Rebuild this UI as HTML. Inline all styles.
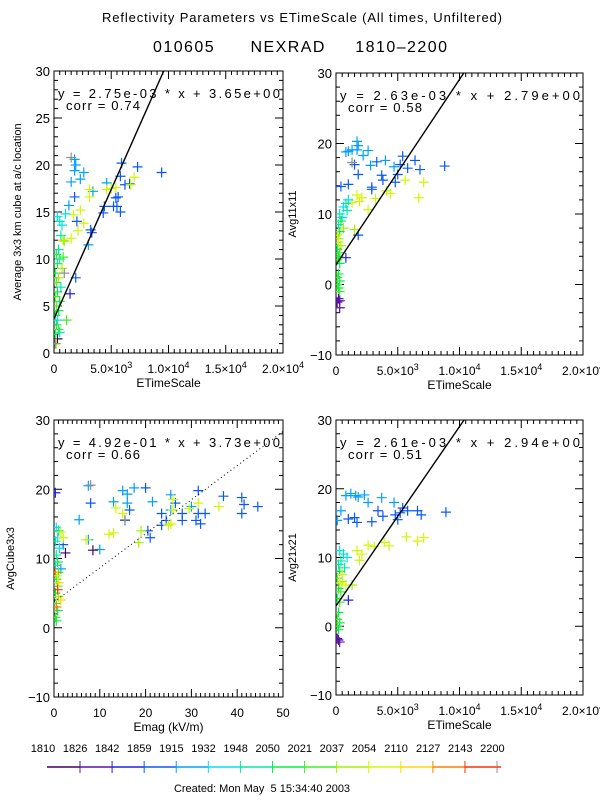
<!DOCTYPE html>
<html><head><meta charset="utf-8">
<style>
body{margin:0;background:#fff;}
svg{display:block;font-family:"Liberation Sans",sans-serif;}
</style></head>
<body>
<svg id="c" width="600" height="800" viewBox="0 0 600 800">
<rect width="600" height="800" fill="#fff"/>
<text x="102" y="22" font-size="13" textLength="400" lengthAdjust="spacing">Reflectivity Parameters vs ETimeScale (All times, Unfiltered)</text>
<text x="153" y="52" font-size="16" textLength="294" lengthAdjust="spacing" xml:space="preserve">010605      NEXRAD     1810–2200</text>
<text x="262" y="792" text-anchor="middle" font-size="11" xml:space="preserve">Created: Mon May  5 15:34:40 2003</text>
</svg>
<script>
// palette by time bin (1810 ... 2200), plus gray (index 14)
const palette=["#40005a","#5a10a8","#2020e8","#0858f8","#00a0ff","#00e0f0","#00e8a8","#00f040","#40f020","#a8f000","#d0f800","#ffd800","#ff8000","#ff3000","#909090"];
const timeLabels=["1810","1826","1842","1859","1915","1932","1948","2050","2021","2037","2054","2110","2127","2143","2200"];

// ---- plot 1 (top-left) ----
const p1x=[5900,7300,9400,5800,6200,6600,5600,5400,5500,5800,5200,4400,4300,3200,3300,1800,2000,1900,1400,
 1800,1900,1800,2600,2300,1500,4600,3400,3000,1300,
 7000,6700,5400,5000,4600,3100,3100,2300,1700,2600,2100,1500,900,
 300,500,700,1000,600,800,400,200,500,300,700,100,400,200,600,300,100,500,200,400,100,300,1100,200,400,100,300,200,500,800,900,100,
 1500,1800,1200];
const p1y=[20.2,19.8,19.2,18.8,17.9,18,16.6,16.5,15.6,15,15.6,15.6,14.9,13.1,12.8,16.6,14,8,6.3,
 20.6,20,19.4,19.2,18.5,18.2,18.1,17.2,11.5,15.7,
 18.7,17.9,17.6,17.5,17.4,17.4,16.6,15.2,14.7,13.8,13,12.2,11.9,
 14.5,14,13.6,14.8,12.5,12,11,10.5,10,9.5,9,8.5,8,7.5,7,6.5,6,5.5,5,4.5,4,3.5,3.5,3,2.5,2,1.5,1,2.2,10.2,8.5,1,
 20.8,20.3,17];
const p1c=[3,3,3,3,3,3,3,3,3,3,3,3,3,3,3,3,3,3,2,
 4,4,4,4,4,4,4,4,4,4,
 10,10,10,10,10,10,10,10,10,10,10,10,9,
 5,6,5,5,6,9,6,7,6,7,9,7,9,8,6,7,8,7,8,7,7,5,8,7,8,7,0,9,6,8,
 14,14,14];
// ---- plot 2 (top-right) ----
const p2x=[5400,6400,8800,6800,5800,5200,5000,4800,3700,3800,2900,2900,3300,1500,1800,1000,400,1800,800,
 1700,1800,1700,1300,800,1000,2600,2200,4000,2800,4700,
 5600,7100,6700,4100,4400,1700,2100,1900,3200,2600,1500,1300,
 1000,800,600,900,300,500,400,200,600,300,100,200,
 200,400,100,300,200,100,300,200,100,300,100,200,300,
 200,300,100,300,1300];
const p2y=[18.2,17.6,16.8,16.3,16.5,17,15.6,14.5,15.5,14.8,13.8,13.5,17.4,17,15.6,14.2,13.9,7,3.8,
 20.3,19.7,19.1,19.1,18.8,18.9,19,18.3,17.6,16.9,16.7,
 14.8,14.5,12.3,13.3,12.9,12.7,12.3,11.8,12.2,10.6,7.8,11.6,
 12,11.5,11,10.5,10,9.5,9,8.5,8,7.5,7,6.5,
 6,5.5,5,4.5,4,3.5,3,1.5,1,0.5,0,-0.5,-1,
 -2,-2.3,-2.5,-3.3,17.3];
const p2c=[3,3,3,3,3,3,3,3,3,3,3,3,3,3,3,3,3,3,2,
 4,4,4,4,4,4,4,4,4,4,4,
 10,10,10,10,10,10,10,10,10,10,9,10,
 5,6,5,6,6,5,7,6,9,7,10,9,
 10,9,7,8,7,8,7,7,8,7,8,7,8,
 1,1,1,1,14];
// ---- plot 3 (bottom-left, Emag) ----
const p3x=[8,15.5,16.5,20.5,21,23.5,23.5,24.5,26.5,28,28,31.5,31,32,31.5,33,37,41,41,41.5,44.5,20,2,0.3,
 7.5,5.5,13,15,16,16,17.5,21.5,25.5,25.5,30,10,7.5,1.5,
 7,12,13,13.5,15,19,18.5,25.5,25,26,29.5,31.5,36,26,
 8.5,2.5,8,15.5,
 0.5,1,0.8,0.3,1.2,0.5,0.8,0.3,1,1.5,2,
 0.5,0.8,0.3,1,0.5,0.8,0.3,0.5,0.3,0.8,0.5,1.5,1,0.7];
const p3y=[18,15.5,17,14,13,16.5,14.8,15.5,18,16.5,15.5,19.8,15.5,15,16.5,16.5,19,18.8,16.5,17.8,17.5,20.2,12,19.5,
 20.5,15.6,18.2,19.8,19.3,18,20.2,18.2,19.2,17,17.5,11.3,12.7,8.5,
 12.7,13.5,13.7,17.3,16.5,14,12.3,15,14.8,17,17.2,18,17.5,18.5,
 11.2,10.8,20.6,15.6,
 14.5,14,13,12.5,11.5,10.5,9.5,9,8,13.8,13,
 7,6,5,4.5,3.5,2.5,1.5,1,8,5.5,3,4,6.5,7.5];
const p3c=[3,3,3,3,3,3,3,3,3,3,3,3,3,3,3,3,3,3,3,3,3,3,3,2,
 4,4,4,4,4,4,4,4,4,4,4,4,4,4,
 10,10,10,10,10,9,9,10,10,10,10,10,10,10,
 0,0,14,14,
 5,6,5,6,5,6,7,6,8,10,10,
 7,8,7,9,8,7,8,7,12,13,12,11,11,10];
// ---- plot 4 (bottom-right) ----
const p4x=[1200,800,1600,1800,2300,2600,3700,4700,400,100,
 1000,1500,1700,2900,3400,3800,4800,5200,5400,5800,6600,6900,8900,5000,1000,
 5700,6600,7100,4300,3900,2600,3100,1700,2100,1900,1300,
 300,600,900,400,200,700,
 300,100,500,200,400,100,300,200,100,300,100,200,
 500,800,300,
 200,300,100];
const p4y=[19.3,19,19,18.8,19.1,18,18.7,18,16.8,15.4,
 15.6,15.8,15.1,15.2,16.8,16,16.2,16.5,17.2,16.8,16.8,16.2,16.6,15.5,3.8,
 13,12.4,12.9,11.7,12.2,11.8,11.6,11,10.5,9.6,6,
 11,10.5,10,9.5,9,8.5,
 8,7,6.5,5.5,5,4,3.5,2,1,0.5,0,-0.5,
 7.5,6,6.3,
 -2,-2.3,-1.8];
const p4c=[4,4,4,4,4,4,4,4,4,4,
 3,3,3,3,3,3,3,3,3,3,3,3,3,3,2,
 10,10,10,10,10,10,10,10,10,10,9,
 5,6,5,6,6,6,
 7,8,9,7,8,7,8,7,8,7,8,7,
 10,10,10,
 1,1,1];
// fits
const fitSlope=[2.75e-3,2.63e-3,4.92e-1,2.61e-3];
const fitInter=[3.65,2.79,3.73,2.94];
const fitText=["y = 2.75e-03 * x  + 3.65e+00","y = 2.63e-03 * x  + 2.79e+00","y = 4.92e-01 * x  + 3.73e+00","y = 2.61e-03 * x  + 2.94e+00"];
const corrText=["corr = 0.74","corr = 0.58","corr = 0.66","corr = 0.51"];
const xTicksE=[0,5000,10000,15000,20000];
const xTickLabE=[["0",""],["5.0×10","3"],["1.0×10","4"],["1.5×10","4"],["2.0×10","4"]];
const xTicksM=[0,10,20,30,40,50];
const yTicksA=[0,5,10,15,20,25,30];
const yTicksB=[-10,0,10,20,30];

const NS="http://www.w3.org/2000/svg";
const svg=document.getElementById('c');
function mk(tag,attrs,parent){const e=document.createElementNS(NS,tag);for(const k in attrs)e.setAttribute(k,attrs[k]);(parent||svg).appendChild(e);return e;}

const plots=[
 {name:'top-left',x0:54,x1:283,y0:353,y1:71,xmin:0,xmax:20000,ymin:0,ymax:30,xs:p1x,ys:p1y,cs:p1c,xt:xTicksE,xl:xTickLabE,yt:yTicksA,ylab:"Average 3x3 km cube at a/c location",ylx:21,xlab:"ETimeScale",dotted:false,xminor:10},
 {name:'top-right',x0:336,x1:583,y0:355,y1:73,xmin:0,xmax:20000,ymin:-10,ymax:30,xs:p2x,ys:p2y,cs:p2c,xt:xTicksE,xl:xTickLabE,yt:yTicksB,ylab:"Avg11x11",ylx:296,xlab:"ETimeScale",dotted:false,xminor:10},
 {name:'bottom-left',x0:54,x1:283,y0:697,y1:420,xmin:0,xmax:50,ymin:-10,ymax:30,xs:p3x,ys:p3y,cs:p3c,xt:xTicksM,xl:xTicksM.map(v=>[String(v),""]),yt:yTicksB,ylab:"AvgCube3x3",ylx:14,xlab:"Emag (kV/m)",dotted:true,xminor:10},
 {name:'bottom-right',x0:336,x1:583,y0:695,y1:420,xmin:0,xmax:20000,ymin:-10,ymax:30,xs:p4x,ys:p4y,cs:p4c,xt:xTicksE,xl:xTickLabE,yt:yTicksB,ylab:"Avg21x21",ylx:296,xlab:"ETimeScale",dotted:false,xminor:10}
];

plots.forEach((p,pi)=>{
 const sx=v=>p.x0+(v-p.xmin)/(p.xmax-p.xmin)*(p.x1-p.x0);
 const sy=v=>p.y0-(v-p.ymin)/(p.ymax-p.ymin)*(p.y0-p.y1);
 const g=mk('g',{});
 
 
 const cid='clip'+pi;
 const cp=mk('clipPath',{id:cid},g);
 mk('rect',{x:p.x0,y:p.y1,width:p.x1-p.x0,height:p.y0-p.y1},cp);
 const fr=mk('rect',{x:p.x0,y:p.y1,width:p.x1-p.x0,height:p.y0-p.y1,fill:'none',stroke:'#000','stroke-width':1},g);
 
 
 const xstep=(p.xt[1]-p.xt[0])/p.xminor;
 for(let i=0;i<p.xt.length;i++){
  const X=sx(p.xt[i]);
  mk('line',{x1:X,x2:X,y1:p.y0,y2:p.y0-8,stroke:'#000'},g);
  mk('line',{x1:X,x2:X,y1:p.y1,y2:p.y1+8,stroke:'#000'},g);
  if(i<p.xt.length-1){for(let k=1;k<p.xminor;k++){const Xm=sx(p.xt[i]+k*xstep);
   mk('line',{x1:Xm,x2:Xm,y1:p.y0,y2:p.y0-4,stroke:'#000'},g);
   mk('line',{x1:Xm,x2:Xm,y1:p.y1,y2:p.y1+4,stroke:'#000'},g);}}
  const t=mk('text',{x:X,y:p.y0+20,'font-size':12,'text-anchor':'middle'},g);
  
  
  t.textContent=p.xl[i][0];
  if(p.xl[i][1]){const s=mk('tspan',{dy:-5,'font-size':9},t);s.textContent=p.xl[i][1];}
 }
 const ystep=(p.yt[1]-p.yt[0])/5;
 for(let i=0;i<p.yt.length;i++){
  const Y=sy(p.yt[i]);
  mk('line',{x1:p.x0,x2:p.x0+8,y1:Y,y2:Y,stroke:'#000'},g);
  mk('line',{x1:p.x1,x2:p.x1-8,y1:Y,y2:Y,stroke:'#000'},g);
  if(i<p.yt.length-1){for(let k=1;k<5;k++){const Ym=sy(p.yt[i]+k*ystep);
   mk('line',{x1:p.x0,x2:p.x0+4,y1:Ym,y2:Ym,stroke:'#000'},g);
   mk('line',{x1:p.x1,x2:p.x1-4,y1:Ym,y2:Ym,stroke:'#000'},g);}}
  const t=mk('text',{x:p.x0-4,y:Y+5,'font-size':13,'text-anchor':'end'},g);
  
  
  t.textContent=String(p.yt[i]).replace('-','−');
 }
 const xt=mk('text',{x:(p.x0+p.x1)/2,y:p.y0+34,'font-size':12,'text-anchor':'middle'},g);
 
 
 xt.textContent=p.xlab;
 const yc=(p.y0+p.y1)/2;
 const yt=mk('text',{x:p.ylx,y:yc,'font-size':11,'text-anchor':'middle',transform:`rotate(-90 ${p.ylx} ${yc})`},g);
 
 
 yt.textContent=p.ylab;
 const pg=mk('g',{'clip-path':`url(#${cid})`},g);
 for(let i=0;i<p.xs.length;i++){
  const X=sx(p.xs[i]),Y=sy(p.ys[i]);
  const m=mk('path',{d:`M${X-5},${Y}H${X+5}M${X},${Y-5}V${Y+5}`,stroke:palette[p.cs[i]],'stroke-width':1.2,fill:'none'},pg);
  
  
 }
 const xa=p.xmin,xb=p.xmax;
 const fl=mk('line',{x1:sx(xa),y1:sy(fitInter[pi]+fitSlope[pi]*xa),x2:sx(xb),y2:sy(fitInter[pi]+fitSlope[pi]*xb),stroke:'#000','stroke-width':p.dotted?1:1.4,'stroke-dasharray':p.dotted?'1,3':'none','clip-path':`url(#${cid})`},g);
 
 
 const ft=mk('text',{x:p.x0+4,y:p.y1+27,'font-size':13,textLength:(p.x1-p.x0-7),lengthAdjust:'spacing','xml:space':'preserve'},g);
 
 
 ft.textContent=fitText[pi];
 const ct=mk('text',{x:p.x0+12,y:p.y1+39,'font-size':13,textLength:74,lengthAdjust:'spacing'},g);
 
 
 ct.textContent=corrText[pi];
});

// color bar
const cbx0=47,cbx1=501,cby=767,tick0=80,tickStep=32.08;
const cb=mk('g',{});


const nseg=timeLabels.length-1;
for(let i=0;i<=nseg;i++){
 const a=i===0?cbx0:tick0+(i-1)*tickStep;
 const b=i===nseg?cbx1:tick0+i*tickStep;
 const s=mk('line',{x1:a,x2:b,y1:cby,y2:cby,stroke:palette[Math.min(i,13)],'stroke-width':1.5},cb);
 
 
 if(i<nseg){const tx=tick0+i*tickStep;
  mk('line',{x1:tx,x2:tx,y1:cby-6,y2:cby+6,stroke:palette[i+1],'stroke-width':1},cb);}
}
for(let i=0;i<timeLabels.length;i++){
 const t=mk('text',{x:43+i*32.1,y:752,'font-size':11,'text-anchor':'middle'},cb);
 
 
 t.textContent=timeLabels[i];
}
</script>
</body></html>
